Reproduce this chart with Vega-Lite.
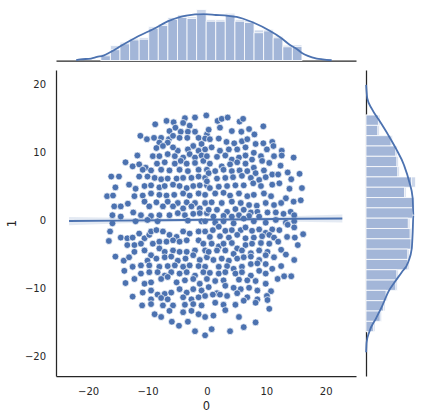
{
"$schema": "https://vega.github.io/schema/vega-lite/v6.json",
"padding": {"left": 6, "top": 0.5, "right": 0, "bottom": 0},
"background": "white",
"config": {
  "view": {"stroke": null},
  "font": "DejaVu Sans",
  "axis": {"domainColor": "#262626", "domainWidth": 1.25, "ticks": false, "tickSize": 0, "grid": false,
    "labelFont": "DejaVu Sans", "labelFontSize": 10, "labelColor": "#262626",
    "titleFont": "DejaVu Sans", "titleFontSize": 11.5, "titleColor": "#262626", "titleFontWeight": "normal"}
},
"datasets": {
"pts": [
{"x":-0.1,"y":15.5},{"x":-2.0,"y":15.2},{"x":-3.7,"y":15.1},{"x":-6.8,"y":14.7},{"x":-5.6,"y":14.5},{"x":-4.0,"y":14.4},{"x":-8.7,"y":14.2},{"x":-5.3,"y":13.7},{"x":-2.9,"y":14.0},{"x":-2.0,"y":13.1},{"x":-4.4,"y":13.1},{"x":-3.2,"y":13.1},{"x":-6.3,"y":13.2},{"x":0.0,"y":12.7},{"x":-11.2,"y":12.5},{"x":-10.1,"y":12.0},{"x":-8.9,"y":12.2},{"x":-7.7,"y":12.2},{"x":-6.4,"y":12.0},{"x":-5.7,"y":12.5},{"x":-4.6,"y":12.2},{"x":-3.3,"y":12.2},{"x":-1.4,"y":12.2},{"x":-0.3,"y":12.1},{"x":-8.0,"y":11.5},{"x":-6.6,"y":11.5},{"x":-8.5,"y":10.7},{"x":-7.4,"y":11.0},{"x":-4.9,"y":10.3},{"x":-5.7,"y":10.8},{"x":-2.3,"y":11.0},{"x":-0.9,"y":11.3},{"x":-3.2,"y":10.5},{"x":-1.4,"y":10.3},{"x":-0.3,"y":10.5},{"x":-11.7,"y":9.6},{"x":-9.1,"y":9.5},{"x":-8.0,"y":9.5},{"x":-6.6,"y":9.8},{"x":-5.4,"y":9.5},{"x":-4.0,"y":9.3},{"x":-2.9,"y":9.8},{"x":-2.0,"y":9.3},{"x":-0.9,"y":9.6},{"x":-13.7,"y":8.6},{"x":-12.5,"y":8.0},{"x":-11.4,"y":8.3},{"x":-10.3,"y":7.8},{"x":-8.4,"y":8.4},{"x":-7.1,"y":8.6},{"x":-5.4,"y":8.4},{"x":-4.4,"y":8.8},{"x":-3.4,"y":8.4},{"x":-2.0,"y":8.5},{"x":-0.6,"y":8.8},{"x":-10.8,"y":7.5},{"x":-9.4,"y":7.4},{"x":-7.7,"y":7.5},{"x":-6.3,"y":7.4},{"x":-4.6,"y":7.5},{"x":-3.2,"y":7.3},{"x":-1.4,"y":7.5},{"x":0.0,"y":7.5},{"x":-16.1,"y":6.5},{"x":-14.8,"y":6.5},{"x":-11.4,"y":6.5},{"x":-10.0,"y":6.5},{"x":-8.8,"y":6.3},{"x":-7.7,"y":6.1},{"x":-6.6,"y":6.2},{"x":-5.1,"y":6.2},{"x":-4.0,"y":6.3},{"x":-2.6,"y":6.3},{"x":-1.4,"y":6.5},{"x":-0.3,"y":6.3},{"x":-13.1,"y":5.3},{"x":-12.0,"y":4.7},{"x":-10.5,"y":5.1},{"x":-9.4,"y":5.2},{"x":-8.0,"y":4.9},{"x":-7.1,"y":5.1},{"x":-5.7,"y":5.3},{"x":-4.6,"y":5.1},{"x":-3.4,"y":4.8},{"x":-2.3,"y":5.1},{"x":-1.2,"y":5.2},{"x":0.0,"y":5.2},{"x":-15.4,"y":4.9},{"x":-16.8,"y":3.6},{"x":-15.8,"y":3.7},{"x":-12.2,"y":3.6},{"x":-10.8,"y":3.7},{"x":-9.4,"y":4.0},{"x":-8.0,"y":3.8},{"x":-6.8,"y":3.7},{"x":-5.5,"y":3.8},{"x":-4.0,"y":4.0},{"x":-2.9,"y":3.7},{"x":-1.4,"y":4.0},{"x":-0.3,"y":3.8},{"x":-10.5,"y":2.8},{"x":-8.5,"y":2.7},{"x":-6.6,"y":2.8},{"x":-4.9,"y":2.6},{"x":-3.4,"y":2.7},{"x":-2.0,"y":2.6},{"x":-0.3,"y":2.6},{"x":-15.6,"y":2.1},{"x":-14.5,"y":2.1},{"x":-13.3,"y":2.5},{"x":-9.7,"y":2.1},{"x":-7.4,"y":2.1},{"x":-5.7,"y":2.1},{"x":-4.0,"y":1.8},{"x":-2.6,"y":2.1},{"x":-1.2,"y":1.8},{"x":-15.9,"y":0.8},{"x":-14.5,"y":0.6},{"x":-12.4,"y":1.2},{"x":-11.1,"y":0.8},{"x":-9.4,"y":0.7},{"x":-8.0,"y":0.8},{"x":-6.3,"y":0.8},{"x":-4.9,"y":1.1},{"x":-3.7,"y":0.8},{"x":-2.3,"y":1.0},{"x":-1.2,"y":1.1},{"x":0.0,"y":1.1},
{"x":1.8,"y":14.7},{"x":2.5,"y":15.0},{"x":3.5,"y":15.2},{"x":5.5,"y":14.6},{"x":6.1,"y":15.0},{"x":0.3,"y":13.4},{"x":2.2,"y":13.7},{"x":4.2,"y":13.2},{"x":5.8,"y":13.1},{"x":7.1,"y":13.5},{"x":8.0,"y":12.7},{"x":9.5,"y":13.9},{"x":0.5,"y":12.0},{"x":2.0,"y":12.1},{"x":3.3,"y":11.6},{"x":4.6,"y":11.4},{"x":5.9,"y":11.7},{"x":6.8,"y":12.0},{"x":8.2,"y":11.3},{"x":9.5,"y":11.4},{"x":11.0,"y":11.6},{"x":0.8,"y":10.8},{"x":2.2,"y":10.3},{"x":3.7,"y":10.5},{"x":5.1,"y":10.5},{"x":6.5,"y":10.8},{"x":7.9,"y":10.0},{"x":10.1,"y":10.5},{"x":11.2,"y":11.0},{"x":12.6,"y":10.3},{"x":0.0,"y":9.5},{"x":1.7,"y":9.4},{"x":3.1,"y":9.6},{"x":4.2,"y":9.0},{"x":5.4,"y":9.3},{"x":6.5,"y":9.6},{"x":7.6,"y":9.0},{"x":9.1,"y":9.5},{"x":11.3,"y":9.5},{"x":12.6,"y":9.6},{"x":14.6,"y":9.3},{"x":0.5,"y":8.4},{"x":2.5,"y":8.0},{"x":3.9,"y":8.3},{"x":5.1,"y":8.6},{"x":6.5,"y":8.4},{"x":7.9,"y":7.8},{"x":9.3,"y":8.8},{"x":10.5,"y":8.5},{"x":12.4,"y":8.1},{"x":0.3,"y":7.0},{"x":1.4,"y":7.3},{"x":2.8,"y":7.5},{"x":4.2,"y":7.3},{"x":5.5,"y":7.4},{"x":6.8,"y":7.3},{"x":8.2,"y":7.0},{"x":9.6,"y":7.4},{"x":11.0,"y":6.8},{"x":13.6,"y":7.1},{"x":15.6,"y":6.9},{"x":0.0,"y":5.8},{"x":1.7,"y":6.2},{"x":3.1,"y":6.3},{"x":4.4,"y":6.4},{"x":5.9,"y":6.6},{"x":7.4,"y":6.3},{"x":8.8,"y":6.0},{"x":9.9,"y":6.4},{"x":12.0,"y":6.8},{"x":14.2,"y":6.1},{"x":0.5,"y":4.8},{"x":2.0,"y":5.0},{"x":3.4,"y":5.1},{"x":4.8,"y":5.2},{"x":6.2,"y":5.2},{"x":7.8,"y":5.5},{"x":9.1,"y":5.1},{"x":11.0,"y":5.3},{"x":12.2,"y":5.5},{"x":13.9,"y":4.7},{"x":16.0,"y":4.8},{"x":1.4,"y":4.0},{"x":2.8,"y":4.1},{"x":3.9,"y":3.7},{"x":5.4,"y":4.0},{"x":6.8,"y":3.6},{"x":7.9,"y":3.8},{"x":9.6,"y":4.0},{"x":10.8,"y":3.6},{"x":13.3,"y":3.3},{"x":14.6,"y":2.8},{"x":15.8,"y":3.0},{"x":0.8,"y":2.7},{"x":2.5,"y":2.6},{"x":4.2,"y":2.8},{"x":5.7,"y":2.6},{"x":7.1,"y":2.3},{"x":8.4,"y":2.2},{"x":9.9,"y":2.6},{"x":11.3,"y":2.3},{"x":12.5,"y":2.6},{"x":0.3,"y":1.6},{"x":1.7,"y":1.6},{"x":3.4,"y":1.3},{"x":4.8,"y":1.7},{"x":6.2,"y":1.6},{"x":7.4,"y":1.2},{"x":8.5,"y":1.3},{"x":10.2,"y":1.2},{"x":11.6,"y":1.2},{"x":12.9,"y":1.0},{"x":14.1,"y":1.3},{"x":14.7,"y":0.8},{"x":1.1,"y":0.6},{"x":2.8,"y":0.7},{"x":4.2,"y":0.6},{"x":5.4,"y":0.8},{"x":7.1,"y":0.7},{"x":8.8,"y":0.6},
{"x":-15.9,"y":-0.4},{"x":-12.0,"y":-0.1},{"x":-10.0,"y":0.1},{"x":-8.3,"y":-0.1},{"x":-3.2,"y":0.0},{"x":-0.9,"y":-0.1},{"x":-16.3,"y":-1.6},{"x":-14.5,"y":-2.5},{"x":-13.4,"y":-2.6},{"x":-12.5,"y":-2.5},{"x":-11.4,"y":-1.9},{"x":-10.5,"y":-2.6},{"x":-9.7,"y":-2.1},{"x":-9.4,"y":-1.6},{"x":-8.5,"y":-1.4},{"x":-7.4,"y":-1.6},{"x":-6.3,"y":-2.1},{"x":-5.1,"y":-2.4},{"x":-4.0,"y":-1.6},{"x":-2.9,"y":-1.9},{"x":-1.4,"y":-1.6},{"x":-0.3,"y":-1.6},{"x":-16.5,"y":-3.0},{"x":-13.4,"y":-3.6},{"x":-12.2,"y":-3.6},{"x":-11.1,"y":-3.4},{"x":-9.1,"y":-3.4},{"x":-8.0,"y":-3.1},{"x":-6.8,"y":-3.1},{"x":-5.7,"y":-2.9},{"x":-4.6,"y":-3.1},{"x":-3.4,"y":-2.9},{"x":-1.4,"y":-2.9},{"x":-0.6,"y":-3.4},{"x":-12.2,"y":-4.6},{"x":-10.5,"y":-4.4},{"x":-9.4,"y":-5.1},{"x":-8.0,"y":-4.1},{"x":-7.1,"y":-4.6},{"x":-5.7,"y":-4.4},{"x":-4.6,"y":-4.6},{"x":-3.4,"y":-4.6},{"x":-2.0,"y":-4.4},{"x":-0.3,"y":-4.4},{"x":-15.4,"y":-5.3},{"x":-14.0,"y":-5.9},{"x":-13.1,"y":-5.4},{"x":-10.0,"y":-5.9},{"x":-8.5,"y":-5.6},{"x":-7.1,"y":-5.4},{"x":-6.0,"y":-5.3},{"x":-4.9,"y":-5.9},{"x":-3.6,"y":-5.6},{"x":-2.3,"y":-5.1},{"x":-1.2,"y":-5.8},{"x":0.0,"y":-5.4},{"x":-13.9,"y":-7.4},{"x":-12.5,"y":-6.8},{"x":-11.1,"y":-6.6},{"x":-9.7,"y":-6.6},{"x":-8.0,"y":-6.8},{"x":-6.6,"y":-6.7},{"x":-5.4,"y":-6.6},{"x":-4.0,"y":-6.8},{"x":-2.9,"y":-6.6},{"x":-1.4,"y":-6.7},{"x":-0.3,"y":-6.8},{"x":-12.2,"y":-8.6},{"x":-11.1,"y":-7.8},{"x":-9.7,"y":-7.6},{"x":-8.3,"y":-7.6},{"x":-7.1,"y":-8.1},{"x":-6.0,"y":-7.6},{"x":-4.6,"y":-7.8},{"x":-3.4,"y":-7.6},{"x":-2.0,"y":-8.1},{"x":-0.6,"y":-7.6},{"x":-13.7,"y":-9.2},{"x":-10.5,"y":-9.3},{"x":-9.4,"y":-9.1},{"x":-7.7,"y":-8.6},{"x":-6.6,"y":-8.3},{"x":-5.1,"y":-9.1},{"x":-3.7,"y":-8.8},{"x":-2.3,"y":-8.6},{"x":-1.2,"y":-9.3},{"x":0.0,"y":-8.6},{"x":-10.8,"y":-10.6},{"x":-9.4,"y":-10.3},{"x":-8.3,"y":-10.9},{"x":-7.1,"y":-10.8},{"x":-6.0,"y":-10.6},{"x":-4.6,"y":-10.1},{"x":-3.4,"y":-10.6},{"x":-2.3,"y":-10.1},{"x":-0.9,"y":-10.3},{"x":-12.5,"y":-11.2},{"x":-9.4,"y":-11.6},{"x":-7.7,"y":-11.4},{"x":-6.6,"y":-11.6},{"x":-4.0,"y":-11.3},{"x":-2.6,"y":-11.6},{"x":-1.4,"y":-11.3},{"x":-0.3,"y":-11.1},{"x":-10.9,"y":-12.5},{"x":-9.4,"y":-12.3},{"x":-7.4,"y":-12.5},{"x":-5.7,"y":-12.5},{"x":-3.7,"y":-12.4},{"x":-2.3,"y":-12.3},{"x":-0.9,"y":-12.5},{"x":-8.8,"y":-13.8},{"x":-7.7,"y":-14.2},{"x":-6.3,"y":-13.3},{"x":-4.0,"y":-13.5},{"x":-2.6,"y":-13.3},{"x":-1.4,"y":-13.8},{"x":-0.3,"y":-14.2},{"x":-5.9,"y":-14.9},{"x":-4.7,"y":-15.5},{"x":-3.2,"y":-14.9},{"x":-2.0,"y":-16.3},{"x":-0.3,"y":-16.9},
{"x":-0.3,"y":-0.1},{"x":1.4,"y":-0.3},{"x":2.8,"y":-0.1},{"x":4.5,"y":-0.4},{"x":6.2,"y":0.3},{"x":7.9,"y":-0.1},{"x":9.9,"y":-0.3},{"x":11.6,"y":0.1},{"x":13.3,"y":-0.3},{"x":14.7,"y":-0.1},{"x":1.0,"y":-1.4},{"x":2.0,"y":-0.9},{"x":3.1,"y":-1.5},{"x":4.2,"y":-1.4},{"x":5.7,"y":-1.4},{"x":6.5,"y":-1.0},{"x":7.6,"y":-1.5},{"x":8.8,"y":-1.3},{"x":9.9,"y":-1.8},{"x":11.0,"y":-1.3},{"x":12.2,"y":-1.4},{"x":13.6,"y":-0.6},{"x":14.7,"y":-1.0},{"x":16.2,"y":-2.0},{"x":0.5,"y":-2.4},{"x":2.2,"y":-2.3},{"x":3.7,"y":-2.5},{"x":5.1,"y":-2.1},{"x":6.5,"y":-2.6},{"x":7.9,"y":-2.5},{"x":9.3,"y":-2.3},{"x":10.5,"y":-2.1},{"x":11.3,"y":-2.5},{"x":13.5,"y":-2.4},{"x":14.8,"y":-2.5},{"x":0.8,"y":-3.4},{"x":2.0,"y":-3.8},{"x":2.8,"y":-3.4},{"x":4.2,"y":-3.3},{"x":5.1,"y":-4.1},{"x":6.5,"y":-3.6},{"x":7.6,"y":-3.4},{"x":9.1,"y":-3.3},{"x":10.5,"y":-3.4},{"x":12.0,"y":-3.1},{"x":15.3,"y":-3.6},{"x":0.3,"y":-4.6},{"x":1.7,"y":-4.4},{"x":3.1,"y":-4.4},{"x":4.5,"y":-4.9},{"x":5.9,"y":-4.4},{"x":7.4,"y":-4.8},{"x":8.8,"y":-4.4},{"x":10.2,"y":-4.6},{"x":12.5,"y":-4.3},{"x":1.1,"y":-5.8},{"x":2.5,"y":-5.6},{"x":3.7,"y":-5.9},{"x":5.1,"y":-5.6},{"x":6.2,"y":-5.4},{"x":7.4,"y":-5.3},{"x":8.8,"y":-5.8},{"x":9.9,"y":-5.1},{"x":11.3,"y":-5.4},{"x":13.3,"y":-5.0},{"x":14.7,"y":-5.8},{"x":2.0,"y":-6.8},{"x":3.4,"y":-6.7},{"x":4.5,"y":-7.1},{"x":5.9,"y":-6.8},{"x":7.4,"y":-6.4},{"x":8.5,"y":-6.3},{"x":9.9,"y":-6.4},{"x":11.0,"y":-7.1},{"x":12.5,"y":-6.7},{"x":0.5,"y":-7.7},{"x":2.0,"y":-7.8},{"x":3.1,"y":-7.6},{"x":4.8,"y":-7.8},{"x":5.9,"y":-7.6},{"x":7.4,"y":-8.1},{"x":8.8,"y":-7.4},{"x":9.9,"y":-7.8},{"x":11.9,"y":-8.6},{"x":13.0,"y":-8.2},{"x":14.2,"y":-8.2},{"x":1.4,"y":-8.9},{"x":2.8,"y":-8.8},{"x":5.4,"y":-8.7},{"x":6.8,"y":-8.8},{"x":8.2,"y":-8.9},{"x":9.9,"y":-9.3},{"x":0.3,"y":-9.8},{"x":1.7,"y":-10.7},{"x":3.1,"y":-9.6},{"x":4.5,"y":-9.9},{"x":5.7,"y":-10.1},{"x":7.1,"y":-9.9},{"x":8.5,"y":-10.3},{"x":10.8,"y":-10.4},{"x":1.0,"y":-10.9},{"x":2.2,"y":-10.9},{"x":3.4,"y":-11.1},{"x":5.1,"y":-10.7},{"x":6.8,"y":-11.3},{"x":8.5,"y":-11.6},{"x":10.1,"y":-11.1},{"x":1.4,"y":-12.1},{"x":2.8,"y":-12.4},{"x":4.8,"y":-12.4},{"x":6.2,"y":-11.8},{"x":8.2,"y":-12.1},{"x":10.2,"y":-11.7},{"x":1.1,"y":-14.0},{"x":3.1,"y":-13.2},{"x":5.4,"y":-14.2},{"x":10.5,"y":-13.0},{"x":0.8,"y":-16.0},{"x":3.9,"y":-16.3},{"x":6.2,"y":-15.7},{"x":8.2,"y":-15.0}
],
"reg": [
{"x":-23.2,"fit":-0.07,"lo":-0.67,"hi":0.53},{"x":-15,"fit":0.0,"lo":-0.42,"hi":0.42},{"x":-8,"fit":0.06,"lo":-0.24,"hi":0.36},{"x":0,"fit":0.13,"lo":-0.12,"hi":0.38},{"x":8,"fit":0.2,"lo":-0.1,"hi":0.5},{"x":15,"fit":0.26,"lo":-0.16,"hi":0.68},{"x":22.8,"fit":0.32,"lo":-0.28,"hi":0.92}
],
"hx": [
{"start":-17.85,"end":-16.24,"count":4.8,"inner":3.6},{"start":-16.24,"end":-14.63,"count":11.4,"inner":8.3},{"start":-14.63,"end":-13.01,"count":14.0,"inner":12.8},{"start":-13.01,"end":-11.4,"count":17.0,"inner":15.8},{"start":-11.4,"end":-9.79,"count":17.5,"inner":16.3},{"start":-9.79,"end":-8.18,"count":25.9,"inner":24.7},{"start":-8.18,"end":-6.57,"count":28.0,"inner":26.8},{"start":-6.57,"end":-4.95,"count":33.0,"inner":31.5},{"start":-4.95,"end":-3.34,"count":34.9,"inner":33.0},{"start":-3.34,"end":-1.73,"count":33.4,"inner":32.2},{"start":-1.73,"end":-0.12,"count":39.1,"inner":36.0},{"start":-0.12,"end":1.49,"count":31.3,"inner":30.1},{"start":1.49,"end":3.1,"count":31.3,"inner":30.1},{"start":3.1,"end":4.72,"count":36.2,"inner":35.0},{"start":4.72,"end":6.33,"count":31.3,"inner":30.1},{"start":6.33,"end":7.94,"count":30.3,"inner":29.1},{"start":7.94,"end":9.55,"count":23.4,"inner":21.3},{"start":9.55,"end":11.16,"count":23.9,"inner":22.7},{"start":11.16,"end":12.78,"count":18.6,"inner":17.4},{"start":12.78,"end":14.39,"count":11.7,"inner":10.5},{"start":14.39,"end":16.0,"count":11.9,"inner":10.7}
],
"hy": [
{"start":14.04,"end":15.56,"count":10.7,"inner":9.5},{"start":12.52,"end":14.04,"count":10.2,"inner":9.0},{"start":11.0,"end":12.52,"count":20.4,"inner":19.2},{"start":9.48,"end":11.0,"count":24.0,"inner":22.8},{"start":7.96,"end":9.48,"count":24.8,"inner":23.6},{"start":6.44,"end":7.96,"count":25.5,"inner":24.3},{"start":4.92,"end":6.44,"count":38.0,"inner":34.9},{"start":3.4,"end":4.92,"count":30.7,"inner":29.5},{"start":1.88,"end":3.4,"count":37.0,"inner":35.8},{"start":0.36,"end":1.88,"count":37.0,"inner":35.8},{"start":-1.16,"end":0.36,"count":33.7,"inner":32.4},{"start":-2.68,"end":-1.16,"count":35.0,"inner":33.8},{"start":-4.2,"end":-2.68,"count":35.7,"inner":34.5},{"start":-5.72,"end":-4.2,"count":33.2,"inner":32.0},{"start":-7.24,"end":-5.72,"count":33.2,"inner":32.0},{"start":-8.76,"end":-7.24,"count":24.8,"inner":23.6},{"start":-10.28,"end":-8.76,"count":24.0,"inner":22.8},{"start":-11.8,"end":-10.28,"count":16.6,"inner":15.4},{"start":-13.32,"end":-11.8,"count":14.6,"inner":13.4},{"start":-14.84,"end":-13.32,"count":12.0,"inner":10.8},{"start":-16.36,"end":-14.84,"count":6.9,"inner":5.7}
],
"kx": [
{"x":-22.0,"d":0.2},{"x":-21.3,"d":0.8},{"x":-19.5,"d":1.5},{"x":-18.5,"d":2.7},{"x":-17.4,"d":3.8},{"x":-16.2,"d":6.5},{"x":-14.5,"d":11.1},{"x":-11.8,"d":18.0},{"x":-9.0,"d":24.2},{"x":-6.2,"d":30.7},{"x":-3.5,"d":34.4},{"x":-0.5,"d":35.5},{"x":1.5,"d":34.9},{"x":3.6,"d":34.2},{"x":5.0,"d":33.4},{"x":6.0,"d":32.2},{"x":7.8,"d":29.1},{"x":10.5,"d":23.0},{"x":12.5,"d":17.3},{"x":14.0,"d":11.9},{"x":15.0,"d":9.2},{"x":16.0,"d":5.8},{"x":17.0,"d":3.5},{"x":18.5,"d":1.5},{"x":19.5,"d":0.9},{"x":21.0,"d":0.2}
],
"ky": [
{"y":20.0,"d":0.1},{"y":18.0,"d":1.0},{"y":16.5,"d":4.4},{"y":14.6,"d":10.7},{"y":12.6,"d":17.1},{"y":10.6,"d":23.0},{"y":8.2,"d":29.1},{"y":5.7,"d":33.2},{"y":3.3,"d":35.8},{"y":0.8,"d":36.3},{"y":-1.7,"d":35.8},{"y":-4.1,"d":35.1},{"y":-6.1,"d":32.4},{"y":-7.6,"d":27.4},{"y":-9.0,"d":22.2},{"y":-10.5,"d":17.1},{"y":-12.4,"d":12.8},{"y":-14.4,"d":7.7},{"y":-16.4,"d":2.5},{"y":-17.9,"d":0.5},{"y":-19.4,"d":0.1}
]
},
"bounds": "flush",
"spacing": 9.5,
"resolve": {"scale": {"x": "independent", "y": "independent"}},
"vconcat": [
  {
    "width": 300, "height": 60,
    "layer": [
      {"data": {"name": "hx"}, "mark": {"type": "rect", "color": "#CCD7EA", "stroke": "white", "strokeWidth": 0.8},
       "encoding": {
         "x": {"field": "start", "type": "quantitative", "scale": {"domain": [-25.4, 25.1], "nice": false, "zero": false}, "axis": {"labels": false, "title": null, "domain": true}},
         "x2": {"field": "end"},
         "y": {"field": "count", "type": "quantitative", "scale": {"domain": [0, 46], "nice": false}, "axis": null},
         "y2": {"datum": 0}}},
      {"data": {"name": "hx"}, "mark": {"type": "rect", "color": "#A3B6D8", "stroke": "white", "strokeWidth": 0.8},
       "encoding": {
         "x": {"field": "start", "type": "quantitative"},
         "x2": {"field": "end"},
         "y": {"field": "inner", "type": "quantitative"},
         "y2": {"datum": 0}}},
      {"data": {"name": "kx"}, "mark": {"type": "line", "color": "#4C72B0", "strokeWidth": 1.8, "interpolate": "monotone"},
       "encoding": {
         "x": {"field": "x", "type": "quantitative"},
         "y": {"field": "d", "type": "quantitative"}}}
    ]
  },
  {
    "bounds": "flush",
    "spacing": 10,
    "resolve": {"scale": {"x": "independent", "y": "independent"}},
    "hconcat": [
      {
        "width": 300, "height": 306,
        "layer": [
          {"data": {"name": "pts"}, "mark": {"type": "point", "filled": true, "size": 46, "color": "#4C72B0", "opacity": 1, "stroke": "white", "strokeWidth": 0.7},
           "encoding": {
             "x": {"field": "x", "type": "quantitative", "title": "0", "scale": {"domain": [-25.4, 25.1], "nice": false, "zero": false}, "axis": {"values": [-20, -10, 0, 10, 20], "labelPadding": 10, "titlePadding": 4}},
             "y": {"field": "y", "type": "quantitative", "title": "1", "scale": {"domain": [-22.9, 22.2], "nice": false, "zero": false}, "axis": {"values": [-20, -10, 0, 10, 20], "labelPadding": 10.5, "titlePadding": 7}}}},
          {"data": {"name": "reg"}, "mark": {"type": "area", "color": "#4C72B0", "opacity": 0.15},
           "encoding": {
             "x": {"field": "x", "type": "quantitative", "title": "0"},
             "y": {"field": "lo", "type": "quantitative", "title": "1"},
             "y2": {"field": "hi"}}},
          {"data": {"name": "reg"}, "mark": {"type": "line", "color": "#4C72B0", "strokeWidth": 2},
           "encoding": {
             "x": {"field": "x", "type": "quantitative", "title": "0"},
             "y": {"field": "fit", "type": "quantitative", "title": "1"}}}
        ]
      },
      {
        "width": 60, "height": 306,
        "layer": [
          {"data": {"name": "hy"}, "mark": {"type": "rect", "color": "#CCD7EA", "stroke": "white", "strokeWidth": 0.8},
           "encoding": {
             "y": {"field": "start", "type": "quantitative", "scale": {"domain": [-22.9, 22.2], "nice": false, "zero": false}, "axis": {"labels": false, "title": null, "domain": true}},
             "y2": {"field": "end"},
             "x": {"field": "count", "type": "quantitative", "scale": {"domain": [0, 46], "nice": false}, "axis": null},
             "x2": {"datum": 0}}},
          {"data": {"name": "hy"}, "mark": {"type": "rect", "color": "#A3B6D8", "stroke": "white", "strokeWidth": 0.8},
           "encoding": {
             "y": {"field": "start", "type": "quantitative"},
             "y2": {"field": "end"},
             "x": {"field": "inner", "type": "quantitative"},
             "x2": {"datum": 0}}},
          {"data": {"name": "ky"}, "mark": {"type": "line", "color": "#4C72B0", "strokeWidth": 1.8, "interpolate": "monotone"},
           "encoding": {
             "y": {"field": "y", "type": "quantitative"},
             "x": {"field": "d", "type": "quantitative"},
             "order": {"field": "y", "type": "quantitative"}}}
        ]
      }
    ]
  }
]
}
